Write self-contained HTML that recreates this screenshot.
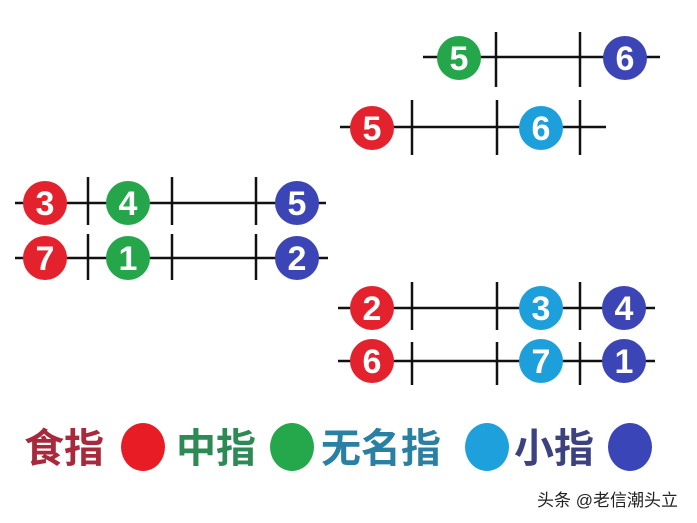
<!DOCTYPE html>
<html><head><meta charset="utf-8"><style>
html,body{margin:0;padding:0;background:#fff;width:697px;height:523px;overflow:hidden}
</style></head><body>
<svg width="697" height="523" xmlns="http://www.w3.org/2000/svg" font-family="Liberation Sans, DejaVu Sans, sans-serif">
<g stroke="#111" stroke-width="2.5">
<line x1="423" y1="57" x2="660" y2="57"/>
<line x1="496" y1="32" x2="496" y2="87"/><line x1="580" y1="32" x2="580" y2="87"/>
<line x1="340" y1="127" x2="606" y2="127"/>
<line x1="412" y1="100" x2="412" y2="155"/><line x1="497" y1="100" x2="497" y2="155"/><line x1="580" y1="100" x2="580" y2="155"/>
<line x1="15" y1="203" x2="326" y2="203"/>
<line x1="88" y1="177" x2="88" y2="225"/><line x1="172" y1="177" x2="172" y2="225"/><line x1="256" y1="177" x2="256" y2="225"/>
<line x1="15" y1="258" x2="328" y2="258"/>
<line x1="88" y1="234" x2="88" y2="280"/><line x1="172" y1="234" x2="172" y2="280"/><line x1="256" y1="234" x2="256" y2="280"/>
<line x1="338" y1="308" x2="655" y2="308"/>
<line x1="412" y1="282" x2="412" y2="330"/><line x1="497" y1="282" x2="497" y2="330"/><line x1="580" y1="282" x2="580" y2="330"/>
<line x1="338" y1="361" x2="655" y2="361"/>
<line x1="412" y1="342" x2="412" y2="385"/><line x1="497" y1="342" x2="497" y2="385"/><line x1="580" y1="342" x2="580" y2="385"/>
</g>
<g stroke="none">
<circle cx="459" cy="58" r="22" fill="#25a64b"/>
<circle cx="625" cy="58" r="22" fill="#3b45b5"/>
<circle cx="372" cy="128" r="22" fill="#e3222d"/>
<circle cx="541" cy="128" r="22" fill="#1d9fdb"/>
<circle cx="45" cy="203" r="22" fill="#e3222d"/>
<circle cx="128" cy="203" r="22" fill="#25a64b"/>
<circle cx="297" cy="203" r="22" fill="#3b45b5"/>
<circle cx="45" cy="258" r="22" fill="#e3222d"/>
<circle cx="128" cy="258" r="22" fill="#25a64b"/>
<circle cx="297" cy="258" r="22" fill="#3b45b5"/>
<circle cx="372" cy="308" r="22" fill="#e3222d"/>
<circle cx="541" cy="308" r="22" fill="#1d9fdb"/>
<circle cx="624" cy="308" r="22" fill="#3b45b5"/>
<circle cx="372" cy="361" r="22" fill="#e3222d"/>
<circle cx="541" cy="361" r="22" fill="#1d9fdb"/>
<circle cx="624" cy="361" r="22" fill="#3b45b5"/>
</g>
<g fill="#fff" font-size="34" font-weight="bold" text-anchor="middle">
<text x="459" y="70">5</text><text x="625" y="70">6</text>
<text x="372" y="140">5</text><text x="541" y="140">6</text>
<text x="45" y="215">3</text><text x="128" y="215">4</text><text x="297" y="215">5</text>
<text x="45" y="270">7</text><text x="128" y="270">1</text><text x="297" y="270">2</text>
<text x="372" y="320">2</text><text x="541" y="320">3</text><text x="624" y="320">4</text>
<text x="372" y="373">6</text><text x="541" y="373">7</text><text x="624" y="373">1</text>
</g>
<g font-size="40" font-weight="bold" font-family="Liberation Sans, Noto Sans CJK SC, sans-serif">
<text x="24" y="462" fill="#a8283c">食指</text>
<text x="176" y="462" fill="#2e8a55">中指</text>
<text x="321" y="462" fill="#2a80a2">无名指</text>
<text x="514" y="462" fill="#3c4280">小指</text>
</g>
<ellipse cx="143" cy="447" rx="22" ry="24" fill="#e81c25"/>
<ellipse cx="292" cy="447" rx="22" ry="24" fill="#25a74c"/>
<ellipse cx="487" cy="447" rx="22" ry="24" fill="#1ea0dc"/>
<ellipse cx="630" cy="447" rx="22" ry="24" fill="#3a45b8"/>
<text x="537" y="506" font-size="17" fill="#222" font-family="Liberation Sans, Noto Sans CJK SC, sans-serif">头条 @老信潮头立</text>
</svg>
</body></html>
